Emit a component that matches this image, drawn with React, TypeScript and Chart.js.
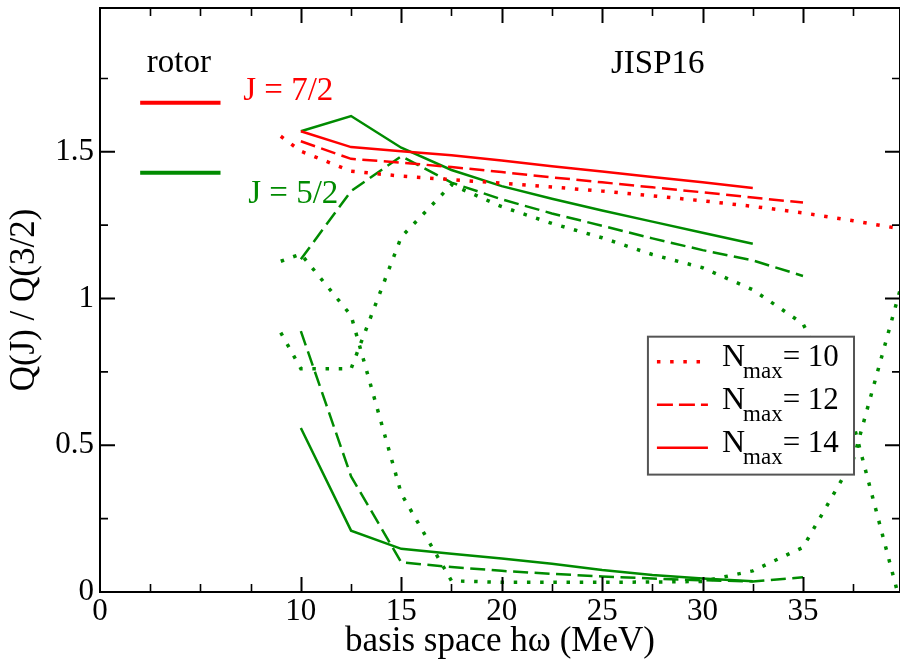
import React, { useEffect, useRef } from "react";
import { Chart, registerables } from "chart.js";
Chart.register(...registerables);

const RED = "rgb(255,0,0)";
const GREEN = "rgb(0,139,0)";
const SERIF = '"Liberation Serif", "DejaVu Serif", serif';

// basis-space hw values (MeV) for each Nmax
const hw10 = [9, 10, 12.5, 15, 17.5, 20, 22.5, 25, 27.5, 30, 32.5, 35, 37.5, 40];
const hw12 = [10, 12.5, 15, 17.5, 20, 22.5, 25, 27.5, 30, 32.5, 35];
const hw14 = [10, 12.5, 15, 17.5, 20, 22.5, 25, 27.5, 30, 32.5];

// J = 7/2
const j72N10 = [1.553, 1.502, 1.434, 1.417, 1.405, 1.393, 1.38, 1.366, 1.35, 1.333, 1.314, 1.292, 1.265, 1.236];
const j72N12 = [1.536, 1.476, 1.463, 1.448, 1.431, 1.413, 1.396, 1.379, 1.362, 1.344, 1.327];
const j72N14 = [1.57, 1.516, 1.502, 1.488, 1.47, 1.451, 1.433, 1.414, 1.396, 1.377];

// J = 5/2 (two states each)
const j52aN10 = [1.127, 1.152, 0.942, 0.335, 0.038, 0.033, 0.033, 0.033, 0.034, 0.036, 0.072, 0.152, 0.45, 1.07];
const j52bN10 = [0.884, 0.761, 0.761, 1.21, 1.388, 1.313, 1.256, 1.207, 1.15, 1.105, 1.03, 0.914, 0.575, -0.077];
const j52aN12 = [1.134, 1.366, 1.485, 1.395, 1.338, 1.29, 1.248, 1.205, 1.165, 1.13, 1.077];
const j52bN12 = [0.889, 0.394, 0.101, 0.085, 0.072, 0.062, 0.053, 0.046, 0.04, 0.036, 0.05];
const j52aN14 = [1.57, 1.622, 1.514, 1.438, 1.383, 1.34, 1.3, 1.262, 1.224, 1.187];
const j52bN14 = [0.559, 0.209, 0.147, 0.13, 0.114, 0.096, 0.075, 0.058, 0.046, 0.037];

// rotor reference values
const rotorX = [2, 6];
const rotor72 = [1.667, 1.667];
const rotor52 = [1.429, 1.429];

const xTickValues = [0, 10, 15, 20, 25, 30, 35];
const xTickLabels = ["0", "10", "15", "20", "25", "30", "35"];
const yTickValues = [0, 0.5, 1, 1.5];
const yTickLabels = ["0", "0.5", "1", "1.5"];
const legendLabels = ["10", "12", "14"];

const DOT = [3.5, 9.7];
const DASH = [15, 6.5];

function pts(xs: number[], ys: number[]) {
  return xs.map((x, i) => ({ x, y: ys[i] }));
}

export default function App() {
  const ref = useRef<HTMLCanvasElement>(null);
  useEffect(() => {
    const canvas = ref.current!;
    let chart: any = null;
    let cancelled = false;
    const line = (label: string, xs: number[], ys: number[], color: string, dash: number[], width: number) => ({
      label,
      data: pts(xs, ys),
      borderColor: color,
      backgroundColor: color,
      borderWidth: width,
      borderDash: dash,
      pointRadius: 0,
      pointHoverRadius: 0,
      fill: false,
      tension: 0,
      clip: 0,
      borderCapStyle: "butt",
      borderJoinStyle: "miter",
    });
    const datasets = [
      line("rotor 7/2", rotorX, rotor72, RED, [], 4),
      line("rotor 5/2", rotorX, rotor52, GREEN, [], 4),
      line("7/2 N10", hw10, j72N10, RED, DOT, 3.5),
      line("7/2 N12", hw12, j72N12, RED, DASH, 2.5),
      line("7/2 N14", hw14, j72N14, RED, [], 2.5),
      line("5/2a N10", hw10, j52aN10, GREEN, DOT, 3.5),
      line("5/2b N10", hw10, j52bN10, GREEN, DOT, 3.5),
      line("5/2a N12", hw12, j52aN12, GREEN, DASH, 2.5),
      line("5/2b N12", hw12, j52bN12, GREEN, DASH, 2.5),
      line("5/2a N14", hw14, j52aN14, GREEN, [], 2.5),
      line("5/2b N14", hw14, j52bN14, GREEN, [], 2.5),
    ];

    const overlay = {
      id: "overlay",
      afterDatasetsDraw(c: any) {
        const { ctx, chartArea: a, scales } = c;
        const xs = scales.x;
        const ys = scales.y;
        const px = (v: number) => xs.getPixelForValue(v);
        const py = (v: number) => ys.getPixelForValue(v);
        ctx.save();
        ctx.strokeStyle = "#000";
        ctx.lineCap = "butt";
        for (let i = 1; i * 2.5 < xs.max; i++) {
          const v = i * 2.5;
          const major = v >= 10 && v % 5 === 0;
          const len = major ? 15 : 8;
          const X = Math.round(px(v)) + 0.5;
          ctx.lineWidth = major ? 2 : 1.6;
          ctx.beginPath();
          ctx.moveTo(X, a.bottom);
          ctx.lineTo(X, a.bottom - len);
          ctx.moveTo(X, a.top);
          ctx.lineTo(X, a.top + len);
          ctx.stroke();
        }
        for (let i = 1; i * 0.25 < ys.max; i++) {
          const v = i * 0.25;
          const major = i % 2 === 0;
          const len = major ? 15 : 8;
          const Y = py(v);
          ctx.lineWidth = major ? 2 : 1.6;
          ctx.beginPath();
          ctx.moveTo(a.left, Y);
          ctx.lineTo(a.left + len, Y);
          ctx.moveTo(a.right, Y);
          ctx.lineTo(a.right - len, Y);
          ctx.stroke();
        }
        ctx.lineWidth = 2;
        ctx.strokeRect(a.left, a.top, a.right - a.left, a.bottom - a.top);

        ctx.textBaseline = "alphabetic";
        ctx.textAlign = "left";
        ctx.font = `33px ${SERIF}`;
        ctx.fillStyle = "#000";
        ctx.fillText("rotor", px(2.33), py(1.772));
        ctx.fillText("JISP16", px(25.44), py(1.767));
        ctx.fillStyle = RED;
        ctx.fillText("J = 7/2", px(7.13), py(1.678));
        ctx.fillStyle = GREEN;
        ctx.fillText("J = 5/2", px(7.38), py(1.326));

        const L = px(27.28), R = px(37.54), T = py(0.87), B = py(0.4);
        ctx.fillStyle = "#fff";
        ctx.fillRect(L, T, R - L, B - T);
        ctx.strokeStyle = "#555";
        ctx.lineWidth = 2;
        ctx.strokeRect(L, T, R - L, B - T);
        const dashes = [DOT, [16, 6], []];
        const widths = [3.5, 2.5, 2.5];
        for (let i = 0; i < 3; i++) {
          const ly = T + 25 + i * 43;
          ctx.strokeStyle = RED;
          ctx.lineWidth = widths[i];
          ctx.setLineDash(dashes[i]);
          ctx.beginPath();
          ctx.moveTo(L + 9, ly);
          ctx.lineTo(L + 60, ly);
          ctx.stroke();
          ctx.setLineDash([]);
          const by = T + 29 + i * 43;
          ctx.fillStyle = "#000";
          ctx.font = `32px ${SERIF}`;
          let tx = L + 74;
          ctx.fillText("N", tx, by);
          tx += ctx.measureText("N").width;
          ctx.font = `23px ${SERIF}`;
          ctx.fillText("max", tx - 2, by + 12);
          tx += ctx.measureText("max").width - 2;
          ctx.font = `31px ${SERIF}`;
          ctx.fillText("= " + legendLabels[i], tx, by);
        }
        ctx.restore();
      },
    };

    const build = () => {
      if (cancelled) return;
      chart = new Chart(canvas, {
        type: "line",
        data: { datasets: datasets as any },
        options: {
          animation: false,
          responsive: false,
          maintainAspectRatio: false,
          devicePixelRatio: 1,
          events: [],
          layout: { padding: { top: 8, right: 0, bottom: 0, left: 0 } },
          plugins: { legend: { display: false }, tooltip: { enabled: false }, title: { display: false } },
          scales: {
            x: {
              type: "linear",
              min: 0,
              max: 39.83,
              grid: { display: false, drawTicks: false },
              border: { display: false },
              afterBuildTicks: (s: any) => {
                s.ticks = xTickValues.map((v) => ({ value: v }));
              },
              afterFit: (s: any) => {
                s.height = 71;
                s.paddingLeft = 0;
                s.paddingRight = 0;
              },
              ticks: {
                autoSkip: false,
                maxRotation: 0,
                padding: 1,
                color: "#000",
                font: { family: SERIF, size: 31 },
                callback: (_v: any, i: number) => xTickLabels[i],
              },
              title: {
                display: true,
                text: "basis space hω (MeV)",
                color: "#000",
                font: { family: SERIF, size: 35 },
                padding: { top: 0, bottom: 0 },
              },
            },
            y: {
              type: "linear",
              min: 0,
              max: 1.99,
              grid: { display: false, drawTicks: false },
              border: { display: false },
              afterBuildTicks: (s: any) => {
                s.ticks = yTickValues.map((v) => ({ value: v }));
              },
              afterFit: (s: any) => {
                s.width = 100;
                s.paddingTop = 0;
                s.paddingBottom = 0;
              },
              ticks: {
                autoSkip: false,
                padding: 6,
                color: "#000",
                font: { family: SERIF, size: 31 },
                callback: (_v: any, i: number) => yTickLabels[i],
              },
              title: {
                display: true,
                text: "Q(J) / Q(3/2)",
                color: "#000",
                font: { family: SERIF, size: 35 },
                padding: { top: 4, bottom: 0 },
              },
            },
          },
        } as any,
        plugins: [overlay],
      });
    };

    const fonts: any = (document as any).fonts;
    if (fonts && fonts.load) {
      Promise.all([
        fonts.load('31px "Liberation Serif"'),
        fonts.load('31px "DejaVu Serif"'),
      ]).then(build, build);
    } else {
      build();
    }
    return () => {
      cancelled = true;
      if (chart) chart.destroy();
    };
  }, []);
  return (
    <div style={{ position: "absolute", left: 0, top: 0, width: 900, height: 663, background: "#fff" }}>
      <span style={{ fontFamily: '"Liberation Serif"', position: "absolute", left: -9999, top: 0 }}>0</span>
      <canvas ref={ref} width={900} height={663} style={{ display: "block", width: 900, height: 663 }} />
    </div>
  );
}
